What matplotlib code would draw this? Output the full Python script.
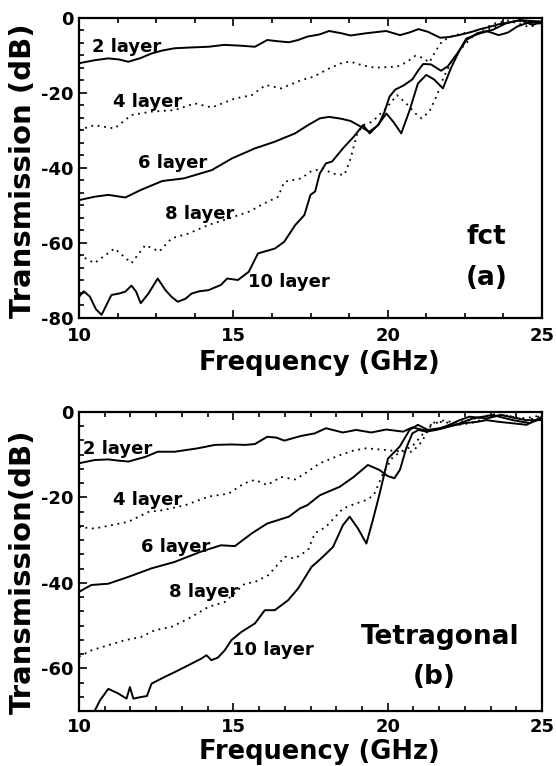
import matplotlib
matplotlib.use("Agg")
import matplotlib.pyplot as plt
from matplotlib.ticker import MultipleLocator, AutoMinorLocator

# ---------------- data : panel (a) fct ----------------
a2_x = [10.0, 10.5, 10.95, 11.3, 11.6, 12.0, 12.35, 12.7, 13.1, 13.6, 14.2, 14.7, 15.2, 15.7, 16.1, 16.4,
        16.8, 17.1, 17.4, 17.8, 18.1, 18.5, 18.8, 19.3, 19.95, 20.4, 20.7, 21.0, 21.3, 21.7, 22.0, 22.3,
        22.7, 23.0, 23.3, 23.6, 24.0, 24.3, 24.6, 25.0]
a2_y = [-12.2, -11.4, -10.9, -11.2, -11.8, -10.8, -9.6, -8.8, -8.2, -8.0, -7.8, -7.3, -7.5, -7.8, -6.0, -6.3,
        -6.6, -6.0, -5.1, -4.5, -3.6, -4.2, -4.8, -4.2, -3.6, -4.7, -4.0, -3.1, -3.8, -5.4, -5.2, -4.7,
        -3.9, -3.1, -2.5, -1.8, -1.2, -0.7, -0.9, -1.1]

a4_x = [10.0, 10.5, 11.15, 11.7, 12.35, 13.1, 13.75, 14.3, 15.05, 15.6, 16.05, 16.55, 17.2, 17.6, 18.1,
        18.55, 18.8, 19.2, 19.6, 20.3, 20.6, 20.9, 21.15, 21.35, 21.55, 21.75, 22.0, 22.3, 22.7, 23.1,
        23.5, 23.9, 24.3, 24.6, 25.0]
a4_y = [-30.0, -28.7, -29.6, -26.0, -25.1, -24.7, -22.9, -24.0, -21.6, -20.7, -18.0, -18.9, -16.7, -15.8, -13.6,
        -12.0, -11.8, -12.8, -13.4, -13.1, -12.0, -10.2, -10.8, -12.0, -9.0, -6.5, -5.2, -4.5, -3.8, -3.0,
        -1.5, -0.8, -1.8, -2.6, -1.2]

a6_x = [10.0, 10.5, 10.95, 11.5, 12.0, 12.7, 13.4, 14.3, 14.95, 15.7, 16.35, 17.0, 17.4, 17.8, 18.1, 18.5,
        18.8, 19.15, 19.4, 19.7, 19.9, 20.06, 20.25, 20.5, 20.8, 21.0, 21.15, 21.4, 21.73, 21.95, 22.3,
        22.55, 22.9, 23.2, 23.6, 23.9, 24.2, 24.6, 25.0]
a6_y = [-48.7, -47.8, -47.3, -48.0, -46.0, -43.6, -42.9, -40.7, -37.6, -34.9, -33.1, -30.9, -28.8, -26.9, -26.5, -27.0,
        -27.6, -29.2, -30.5, -28.7, -25.1, -21.1, -19.2, -18.2, -16.5, -14.0, -12.4, -12.5, -14.2, -13.0, -9.1,
        -6.0, -4.2, -3.6, -4.7, -4.0, -2.4, -1.2, -1.6]

a8_x = [10.0, 10.5, 11.15, 11.7, 12.15, 12.6, 13.0, 13.55, 14.2, 14.85, 15.5, 16.0, 16.45, 16.65, 17.2, 17.5,
        17.9, 18.2, 18.6, 18.8, 19.0, 19.2, 19.5, 19.95, 20.3, 20.6, 20.9, 21.1, 21.35, 21.6, 21.8, 22.06,
        22.33, 22.8, 23.2, 23.7, 24.2, 24.6, 25.0]
a8_y = [-63.3, -65.5, -61.6, -65.5, -60.7, -62.4, -58.9, -57.6, -55.3, -53.6, -51.8, -49.6, -47.8, -43.8, -42.9, -41.1,
        -40.2, -41.6, -42.0, -37.6, -31.3, -28.7, -27.8, -24.2, -20.7, -22.9, -25.6, -26.9, -25.1, -20.7, -16.2, -11.8,
        -8.7, -4.7, -3.3, -2.0, -0.7, -2.0, -0.7]

a10_x = [10.0, 10.15, 10.35, 10.55, 10.73, 10.9, 11.05, 11.3, 11.5, 11.7, 11.85, 12.0, 12.25, 12.55, 12.8, 13.0,
         13.2, 13.45, 13.65, 13.9, 14.2, 14.6, 14.8, 15.15, 15.5, 15.8, 16.1, 16.35, 16.65, 17.0, 17.3, 17.5,
         17.65, 17.8, 18.0, 18.2, 18.55, 18.9, 19.2, 19.42, 19.7, 19.96, 20.2, 20.44, 20.7, 20.98, 21.25, 21.5,
         21.79, 22.05, 22.33, 22.55, 23.0, 23.4, 23.85, 24.3, 24.7, 25.0]
a10_y = [-74.5, -73.0, -74.4, -77.8, -79.3, -76.5, -74.0, -73.6, -73.1, -71.5, -73.1, -76.2, -73.6, -69.6, -72.7, -74.5,
         -75.8, -75.0, -73.6, -73.0, -72.7, -71.3, -69.6, -70.0, -67.8, -62.9, -62.2, -61.6, -59.8, -55.4, -52.7, -47.3,
         -46.4, -41.6, -38.9, -38.4, -34.9, -31.8, -28.7, -30.9, -28.5, -25.6, -28.0, -30.9, -25.0, -17.6, -15.3, -16.5,
         -18.9, -13.5, -8.7, -5.6, -4.2, -3.3, -1.5, -0.7, -2.0, -1.1]

# ---------------- data : panel (b) tetragonal ----------------
b2_x = [10.0, 10.5, 10.95, 11.3, 11.6, 12.15, 12.55, 13.1, 13.85, 14.4, 14.95, 15.4, 15.7, 16.1, 16.4, 16.65,
        17.2, 17.64, 18.0, 18.55, 18.98, 19.47, 19.95, 20.5, 20.8, 21.2, 21.7, 22.1, 22.5, 22.9, 23.2, 23.6,
        24.0, 24.5, 25.0]
b2_y = [-12.0, -11.25, -11.1, -11.4, -11.6, -10.5, -9.3, -9.3, -8.5, -7.7, -7.6, -7.7, -7.5, -5.8, -6.0, -6.7,
        -5.6, -5.0, -3.8, -4.8, -4.2, -4.8, -4.1, -4.6, -3.6, -4.3, -4.0, -3.2, -2.6, -2.3, -1.9, -2.3,
        -2.6, -3.0, -1.1]

b4_x = [10.0, 10.5, 11.05, 11.6, 12.25, 12.7, 13.45, 14.2, 14.85, 15.35, 15.7, 16.1, 16.55, 17.0, 17.3, 17.8,
        18.45, 18.9, 19.3, 19.95, 20.5, 20.8, 21.1, 21.45, 21.8, 22.3, 22.7, 23.0, 23.6, 24.0, 24.3, 24.7, 25.0]
b4_y = [-26.9, -27.3, -26.5, -25.7, -23.4, -23.0, -21.8, -19.8, -19.1, -16.7, -15.9, -17.1, -15.2, -15.8, -14.5, -12.0,
        -10.1, -9.0, -8.5, -8.9, -9.3, -9.3, -7.0, -2.5, -2.3, -3.0, -2.6, -1.9, -0.7, -1.0, -1.5, -1.2, -0.7]

b6_x = [10.0, 10.4, 10.95, 11.6, 12.35, 13.1, 13.95, 14.6, 15.05, 15.6, 16.1, 16.8, 17.15, 17.4, 17.8, 18.45,
        18.9, 19.36, 19.74, 20.0, 20.22, 20.4, 20.6, 20.8, 21.0, 21.25, 21.57, 22.0, 22.3, 22.65, 23.2, 23.7,
        24.1, 24.5, 25.0]
b6_y = [-42.1, -40.5, -40.2, -38.6, -36.6, -35.1, -32.7, -31.2, -31.4, -28.4, -26.1, -24.5, -22.6, -21.8, -19.5, -17.5,
        -15.2, -12.4, -13.6, -15.0, -15.5, -13.5, -8.5, -5.0, -4.2, -4.6, -4.2, -3.0, -2.0, -1.1, -1.5, -0.7,
        -1.4, -1.9, -1.9]

b8_x = [10.0, 10.4, 10.95, 11.5, 12.0, 12.45, 13.0, 13.54, 14.2, 14.72, 15.37, 15.7, 16.13, 16.67, 17.0, 17.42,
        17.64, 18.0, 18.55, 18.98, 19.31, 19.55, 19.85, 20.17, 20.5, 20.8, 21.1, 21.4, 21.8, 22.2, 22.6, 23.0,
        23.5, 24.0, 24.5, 25.0]
b8_y = [-57.3, -55.8, -54.6, -53.4, -52.7, -51.1, -50.3, -48.4, -45.6, -44.5, -40.2, -39.8, -38.2, -33.9, -34.3, -32.3,
        -28.4, -26.9, -22.6, -21.4, -20.6, -19.5, -14.4, -10.5, -9.0, -8.0, -5.5, -3.0, -2.0, -2.5, -2.0, -1.2,
        -0.5, -1.0, -2.0, -0.8]

b10_x = [10.4, 10.52, 10.68, 10.95, 11.27, 11.54, 11.65, 11.76, 12.03, 12.2, 12.35, 12.78, 13.1, 13.54, 13.97, 14.13,
         14.29, 14.5, 14.72, 14.94, 15.26, 15.7, 16.02, 16.34, 16.77, 17.1, 17.53, 17.9, 18.23, 18.55, 18.77, 19.04,
         19.31, 19.52, 19.74, 20.01, 20.39, 20.71, 20.98, 21.3, 21.68, 22.2, 22.76, 23.4, 24.05, 24.6, 25.0]
b10_y = [-75.0, -69.8, -67.5, -64.8, -65.9, -67.1, -64.4, -67.1, -66.7, -66.5, -63.6, -62.0, -60.9, -59.3, -57.7, -56.95,
         -58.1, -57.5, -55.8, -53.4, -51.5, -49.5, -46.4, -46.4, -44.1, -41.3, -36.3, -33.9, -31.6, -26.5, -24.5, -27.3,
         -30.8, -25.3, -19.1, -10.9, -8.1, -4.2, -3.0, -4.2, -3.8, -3.0, -1.5, -0.7, -1.9, -2.6, -1.5]

layer_names = ["2 layer", "4 layer", "6 layer", "8 layer", "10 layer"]
a_label_pos = [(10.42, -7.9), (11.1, -22.5), (11.9, -38.8), (12.8, -52.4), (15.47, -70.5)]
b_label_pos = [(10.13, -8.7), (11.1, -20.6), (12.0, -31.6), (12.9, -42.2), (14.95, -55.7)]

plt.rcParams['font.family'] = ['DejaVu Sans']
plt.rcParams['font.weight'] = 'bold'
plt.rcParams['axes.unicode_minus'] = False

fig = plt.figure(figsize=(5.56, 7.66), dpi=100)
ax_a = fig.add_axes([79/556, 1-317.5/766, 463/556, 300/766])
ax_b = fig.add_axes([79/556, 1-711/766, 463/556, 299/766])

solid = dict(color='black', lw=1.4, ls='-')
dotted = dict(color='black', lw=1.3, ls=(0, (1, 2.6)))

def style(ax, ymin, xminor, ylab, ylab_y, xlab_y, xpad):
    ax.set_xlim(10, 25)
    ax.set_ylim(ymin, 0)
    ax.xaxis.set_major_locator(MultipleLocator(5))
    ax.xaxis.set_minor_locator(AutoMinorLocator(xminor))
    ax.yaxis.set_major_locator(MultipleLocator(20))
    ax.yaxis.set_minor_locator(AutoMinorLocator(6))
    ax.tick_params(which='both', direction='in', top=True, right=False,
                   labelsize=13, width=1.2)
    ax.tick_params(which='major', length=6)
    ax.tick_params(which='minor', length=3.5)
    ax.tick_params(axis='x', pad=xpad)
    ax.tick_params(axis='y', pad=4)
    for lab in ax.get_xticklabels() + ax.get_yticklabels():
        lab.set_fontweight('bold')
    for s in ax.spines.values():
        s.set_linewidth(1.6)
    ax.set_xlabel("Frequency (GHz)", fontsize=18.5, fontweight='bold')
    ax.xaxis.set_label_coords(0.52, xlab_y)
    ax.xaxis.label.set_va('center')
    ax.set_ylabel(ylab, fontsize=21, fontweight='bold')
    ax.yaxis.set_label_coords(-0.121, ylab_y)
    ax.yaxis.label.set_va('center')

# panel (a)
ax_a.plot(a2_x, a2_y, **solid)
ax_a.plot(a4_x, a4_y, **dotted)
ax_a.plot(a6_x, a6_y, **solid)
ax_a.plot(a8_x, a8_y, **dotted)
ax_a.plot(a10_x, a10_y, **solid)
style(ax_a, -80, 4, "Transmission (dB)", 0.488, -0.152, 7)
for name, (x, y) in zip(layer_names, a_label_pos):
    ax_a.text(x, y, name, fontsize=13, fontweight='bold', ha='left', va='center')
ax_a.text(23.2, -58.5, "fct", fontsize=19, fontweight='bold', ha='center', va='center')
ax_a.text(23.2, -69.5, "(a)", fontsize=19, fontweight='bold', ha='center', va='center')

# panel (b)
ax_b.plot(b2_x, b2_y, **solid)
ax_b.plot(b4_x, b4_y, **dotted)
ax_b.plot(b6_x, b6_y, **solid)
ax_b.plot(b8_x, b8_y, **dotted)
ax_b.plot(b10_x, b10_y, **solid)
style(ax_b, -70, 6, "Transmission(dB)", 0.465, -0.137, 5)
for name, (x, y) in zip(layer_names, b_label_pos):
    ax_b.text(x, y, name, fontsize=13, fontweight='bold', ha='left', va='center')
ax_b.text(21.7, -52.7, "Tetragonal", fontsize=19, fontweight='bold', ha='center', va='center')
ax_b.text(21.5, -62.0, "(b)", fontsize=19, fontweight='bold', ha='center', va='center')

fig.savefig("out.png", dpi=100)
